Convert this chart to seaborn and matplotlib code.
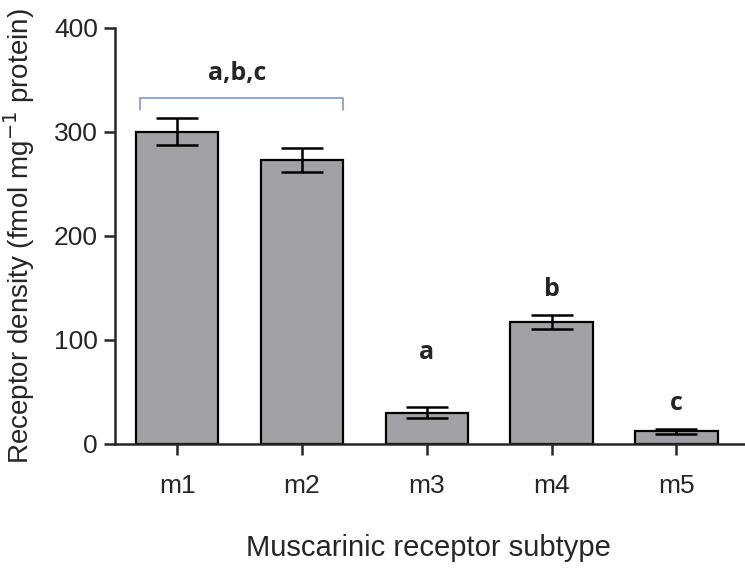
import matplotlib
matplotlib.use('Agg')
import matplotlib.pyplot as plt
import seaborn as sns
import pandas as pd

subtypes = ['m1', 'm2', 'm3', 'm4', 'm5']
density = [300, 273, 30, 117, 12]
sem = [13, 11.5, 5, 6.5, 2.5]
letters = ['', '', 'a', 'b', 'c']
letter_y = [0, 0, 88, 148, 39]
bracket_y = 333
bracket_label = 'a,b,c'

df = pd.DataFrame({'subtype': subtypes, 'density': density})

sns.set_style('ticks')
plt.rcParams['font.family'] = ['Liberation Sans', 'DejaVu Sans']

fig = plt.figure(figsize=(7.45, 5.69), dpi=100)
ax = fig.add_axes([0.154, 0.22, 0.846, 0.731])

sns.barplot(data=df, x='subtype', y='density', color='#a2a1a6', saturation=1,
            width=0.66, edgecolor='black', linewidth=1.6, errorbar=None, ax=ax)
ax.errorbar(subtypes, density, yerr=sem, fmt='none', ecolor='black',
            elinewidth=1.8, capsize=15, capthick=1.8, zorder=5)

# significance letters
bold = dict(family='Open Sans', fontweight='bold', fontsize=18, ha='center', va='center')
for i, (t, yv) in enumerate(zip(letters, letter_y)):
    if t:
        ax.text(i, yv, t, **bold)
ax.plot([-0.3, -0.3, 1.33, 1.33], [bracket_y - 12, bracket_y, bracket_y, bracket_y - 12],
        color='#6f93c4', lw=1.1, clip_on=False)
ax.text(0.48, bracket_y + 23, bracket_label, **bold)

ax.set_xlim(-0.5, 4.55)
ax.set_ylim(0, 400)
ax.set_yticks([0, 100, 200, 300, 400])
ax.set_xlabel('Muscarinic receptor subtype', fontsize=21)
ax.set_ylabel('Receptor density (fmol mg$^{-1}$ protein)', fontsize=20)
ax.xaxis.set_label_coords(0.497, -0.218)
ax.yaxis.set_label_coords(-0.124, 0.5)
ax.tick_params(axis='both', labelsize=19, width=1.8, length=8, direction='out')
ax.tick_params(axis='x', pad=14)
ax.tick_params(axis='y', pad=4)
for s in ['left', 'bottom']:
    ax.spines[s].set_linewidth(1.8)
sns.despine(ax=ax)

fig.savefig('out.png', dpi=100)
